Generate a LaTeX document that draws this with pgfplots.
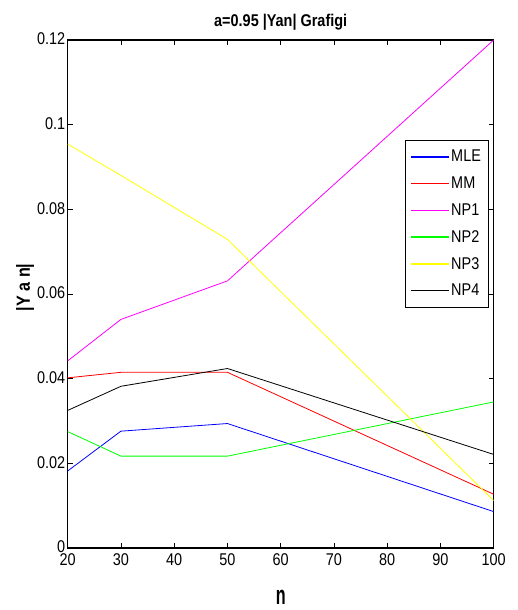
\documentclass[border=0pt]{standalone}
\usepackage{fontspec}
\setmainfont{Liberation Sans}[FakeStretch=0.85]
\usepackage{pgfplots}
\pgfplotsset{compat=1.18}
\definecolor{mgreen}{rgb}{0,1,0}
\definecolor{myellow}{rgb}{1,1,0}
\definecolor{mmagenta}{rgb}{1,0,1}
\begin{document}
\begin{tikzpicture}
\useasboundingbox (-67.7pt,-62pt) rectangle (450.3pt,548pt);
\begin{axis}[
  scale only axis,
  width=426pt, height=508pt,
  xmin=20, xmax=100, ymin=0, ymax=0.12,
  xtick={20,30,...,100},
  ytick={0,0.02,0.04,0.06,0.08,0.1,0.12},
  yticklabels={0,0.02,0.04,0.06,0.08,0.1,0.12},
  scaled y ticks=false,
  /pgf/number format/assume math mode=true,
  tick align=inside,
  major tick length=5pt,
  tick style={black, line width=0.8pt},
  axis line style={line width=1.4pt},
  ticklabel style={font=\fontsize{17}{17}\selectfont},
  xticklabel style={yshift=-2.5pt},
  yticklabel style={xshift=1pt, yshift=1pt},
  title={\textbf{a=0.95 |Yan| Grafigi}},
  title style={font=\fontsize{17}{17}\selectfont},
  xlabel={\scalebox{1}[1.4]{\textbf{n}}},
  ylabel={\textbf{|Y a n|}},
  label style={font=\fontsize{19}{19}\selectfont},
  xlabel style={at={(axis description cs:0.5,0)}, anchor=center, yshift=-49pt},
  ylabel style={at={(axis description cs:-0.1,0.513)}, anchor=center},
  legend style={at={(0.987,0.803)}, anchor=north east, draw=black,
    font=\fontsize{17}{17}\selectfont, row sep=9.5pt, inner xsep=5pt, inner ysep=8pt,
    cells={anchor=west}},
  legend cell align=left,
  legend image post style={xscale=2.2, line width=1.3pt},
  every axis plot/.append style={line width=0.8pt},
]
\addplot[blue] coordinates {(20,0.0182) (30,0.0276) (50,0.0294) (100,0.0086)};
\addlegendentry{MLE}
\addplot[red] coordinates {(20,0.0402) (30,0.0415) (50,0.0415) (100,0.0127)};
\addlegendentry{MM}
\addplot[mmagenta] coordinates {(20,0.0442) (30,0.0540) (50,0.0631) (100,0.1200)};
\addlegendentry{NP1}
\addplot[mgreen] coordinates {(20,0.0275) (30,0.0217) (50,0.0217) (100,0.0345)};
\addlegendentry{NP2}
\addplot[myellow] coordinates {(20,0.0954) (30,0.0880) (50,0.0729) (100,0.0112)};
\addlegendentry{NP3}
\addplot[black] coordinates {(20,0.0325) (30,0.0382) (50,0.0424) (100,0.0221)};
\addlegendentry{NP4}
\end{axis}
\end{tikzpicture}
\end{document}
